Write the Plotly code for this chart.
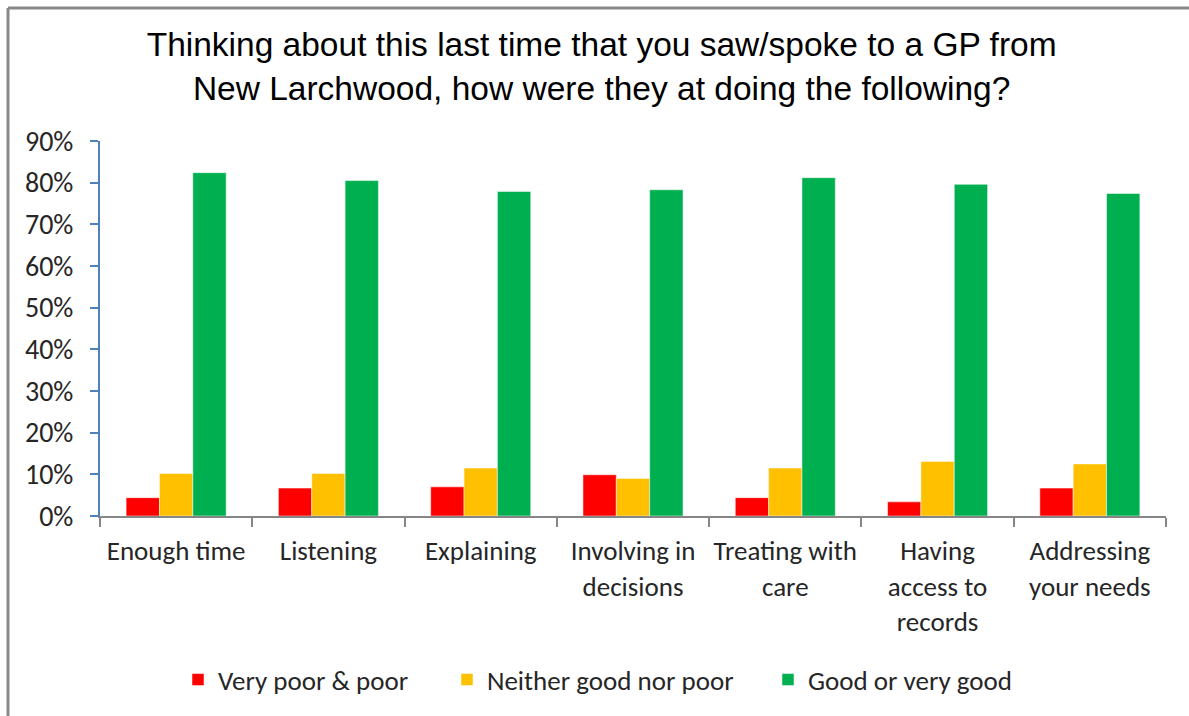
import plotly.graph_objects as go

# Survey results per aspect of the GP consultation
categories = ["Enough time", "Listening", "Explaining", "Involving in decisions",
              "Treating with care", "Having access to records", "Addressing your needs"]
tick_labels = ["Enough time", "Listening", "Explaining", "Involving in<br>decisions",
               "Treating with<br>care", "Having<br>access to<br>records", "Addressing<br>your needs"]

very_poor_poor = [0.044, 0.067, 0.070, 0.099, 0.044, 0.034, 0.067]
neither = [0.102, 0.102, 0.115, 0.090, 0.115, 0.131, 0.125]
good_very_good = [0.824, 0.805, 0.779, 0.783, 0.812, 0.796, 0.774]

series_names = ["Very poor & poor", "Neither good nor poor", "Good or very good"]
series_colors = ["#FF0000", "#FFC000", "#00B050"]

body_font = "Carlito, Lato, sans-serif"
body_size = 27


# Pixel -> paper coordinate helpers for the fixed plot area
def px_x(p):
    return (p - 100) / 1066


def px_y(p):
    return (516 - p) / 375


legend_ids = ["legend", "legend2", "legend3"]
legend_left_px = [178, 447, 768]

fig = go.Figure()
for name, vals, col, lg in zip(series_names, [very_poor_poor, neither, good_very_good],
                               series_colors, legend_ids):
    fig.add_trace(go.Bar(
        x=categories, y=vals, name=name, legend=lg,
        marker=dict(color=col, line=dict(color="rgba(255,255,255,0.5)", width=1)),
    ))

# Outer frame line (left and top edges)
fig.add_shape(type="line", xref="paper", yref="paper",
              x0=px_x(8), x1=px_x(8), y0=px_y(720), y1=px_y(8),
              line=dict(color="#888888", width=3))
fig.add_shape(type="line", xref="paper", yref="paper",
              x0=px_x(8), x1=px_x(1195), y0=px_y(8), y1=px_y(8),
              line=dict(color="#888888", width=3))

legend_style = dict(
    orientation="h", xanchor="left", yanchor="middle", y=px_y(680),
    font=dict(family=body_font, size=body_size, color="#262626"),
    itemwidth=30, bgcolor="rgba(0,0,0,0)",
)

fig.update_layout(
    width=1189, height=716,
    margin=dict(l=100, r=23, t=141, b=200),
    paper_bgcolor="white", plot_bgcolor="white",
    barmode="group", bargap=0.343, bargroupgap=0,
    title=dict(
        text="Thinking about this last time that you saw/spoke to a GP from<br>New Larchwood, how were they at doing the following?",
        x=0.506, xref="container", xanchor="center",
        y=1 - 56 / 716, yref="container", yanchor="middle",
        font=dict(family="Liberation Sans, Arial, sans-serif", size=33.5, color="#000000"),
    ),
    font=dict(family=body_font, size=body_size, color="#262626"),
    xaxis=dict(
        tickmode="array", tickvals=categories, ticktext=tick_labels, tickangle=0,
        automargin=False,
        tickson="boundaries", ticks="outside", ticklen=9, tickwidth=2, tickcolor="#868686",
        showline=True, linecolor="#868686", linewidth=2,
        showgrid=False, tickfont=dict(family=body_font, size=body_size, color="#262626"),
        ticklabelstandoff=10,
    ),
    yaxis=dict(
        range=[0, 0.9], dtick=0.1, tickformat=".0%", automargin=False,
        ticks="outside", ticklen=8, tickwidth=2, tickcolor="#4F81BD",
        showline=True, linecolor="#4F81BD", linewidth=2,
        showgrid=False, zeroline=False,
        tickfont=dict(family=body_font, size=body_size + 1, color="#262626"),
        ticklabelstandoff=11,
    ),
    legend=dict(x=px_x(legend_left_px[0]), **legend_style),
    legend2=dict(x=px_x(legend_left_px[1]), **legend_style),
    legend3=dict(x=px_x(legend_left_px[2]), **legend_style),
    showlegend=True,
)

fig.write_html("out.html")
